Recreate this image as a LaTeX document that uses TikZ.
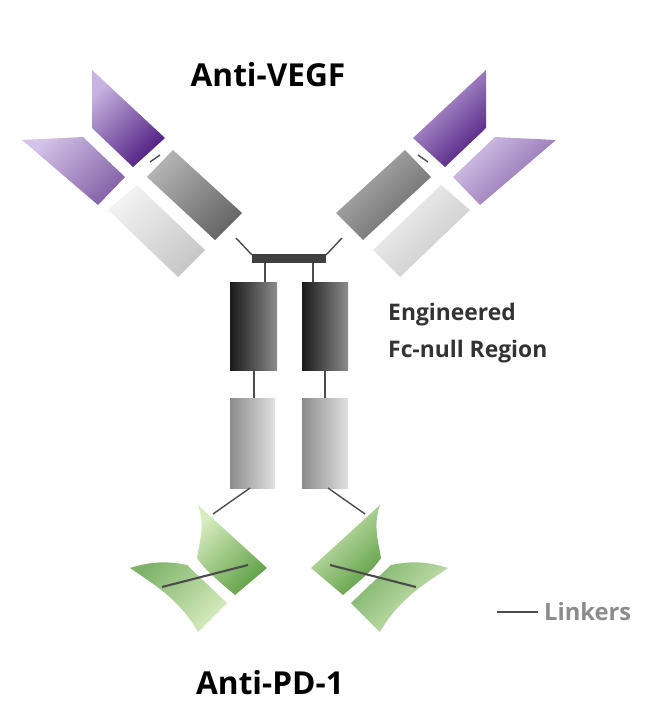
\documentclass[tikz,border=0pt]{standalone}
\usepackage{fontspec}
\setmainfont{Open Sans}
\usepackage{tikz}

\definecolor{purpdark}{RGB}{80,30,130}
\definecolor{purplite}{RGB}{200,180,225}
\definecolor{grndark}{RGB}{95,160,70}
\definecolor{grnlite}{RGB}{215,235,190}

% one Fab arm (left side, pixel units)
\newcommand{\fabarm}{%
    \draw[link] (252,255) -- (236,238);
    \draw[link] (150,162) -- (160,155);
    \shade[midgray] (147,177) -- (173,150) -- (242,213) -- (215,240) -- cycle;
    \shade[lightgray] (108,210) -- (137,185) -- (205,250) -- (178,277) -- cycle;
    \shade[darkpurple] (92,70) -- (92,128) -- (133,167) -- (165,138) -- cycle;
    \shade[lightpurple] (22,140) -- (83,137) -- (125,177) -- (98,205) -- cycle;
}
% one scFv (left side, pixel units)
\newcommand{\scfv}{%
    \draw[link] (250,488) -- (213,514);
    \shade[darkgreen] (198,505) -- (267,568) -- (235,595) .. controls (215,578) and (205,570) .. (197,558)
        .. controls (200,540) and (205,525) .. cycle;
    \shade[lightgreen] (130,568) .. controls (155,560) and (172,562) .. (187,565) -- (227,603) -- (198,632)
        .. controls (180,600) and (155,585) .. cycle;
    \draw[link, line width=1.2pt] (162,587) -- (248,565);
}

\begin{document}
\begin{tikzpicture}[x=0.02cm, y=-0.02cm]
    \tikzset{link/.style={draw=black!70, line width=0.8pt},
        midgray/.style={left color=black!30, right color=black!60, shading angle=45},
        lightgray/.style={left color=black!5, right color=black!22, shading angle=45},
        darkgray/.style={left color=black!90, right color=black!45},
        tubegray/.style={left color=black!45, right color=black!12},
        darkpurple/.style={left color=purplite, right color=purpdark, shading angle=45},
        lightpurple/.style={left color=purplite!80!white, right color=purpdark!70!white, shading angle=45},
        darkgreen/.style={left color=grnlite, right color=grndark, shading angle=45},
        lightgreen/.style={left color=grndark!80!white, right color=grnlite, shading angle=45},
        label/.style={font=\bfseries, text=black!80, align=left}}
    \useasboundingbox (0,0) rectangle (658,720);

    % arms
    \fabarm
    \begin{scope}[shift={(578,0)}, xscale=-1]
        \fabarm
    \end{scope}

    % hinge
    \fill[black!75] (252,254) rectangle (326,263);
    \draw[link] (265,263) -- (265,282);
    \draw[link] (313,263) -- (313,282);

    % Fc region
    \shade[darkgray] (230,282) rectangle (277,370);
    \shade[darkgray] (302,282) rectangle (348,370);
    \draw[link] (254,370) -- (254,398);
    \draw[link] (325,370) -- (325,398);
    \shade[tubegray] (230,398) rectangle (275,488);
    \shade[tubegray] (302,398) rectangle (348,488);

    % scFv
    \scfv
    \begin{scope}[shift={(578,0)}, xscale=-1]
        \scfv
    \end{scope}

    % labels
    \node[label, font=\bfseries\fontsize{18}{22}\selectfont, text=black] (vegf) at (268,75) {Anti-VEGF};
    \node[label, font=\bfseries\fontsize{18}{22}\selectfont, text=black] (pd1) at (270,683) {Anti-PD-1};
    \node[label, font=\bfseries\fontsize{13}{21}\selectfont, anchor=west] (fc) at (382,333) {Engineered\\Fc-null Region};
    \node[label, font=\bfseries\fontsize{13.5}{16}\selectfont, text=black!45, anchor=west] (linkers) at (538,612) {Linkers};
    \coordinate (lk) at (497,612);
    \draw[link, line width=1.2pt] (lk) -- (linkers.west);
\end{tikzpicture}
\end{document}
